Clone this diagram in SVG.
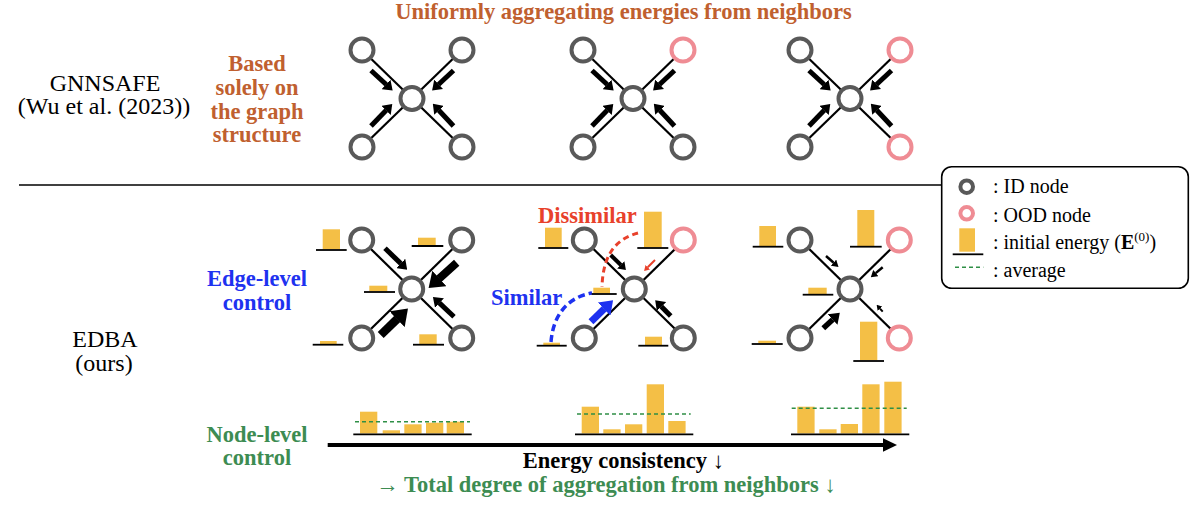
<svg xmlns="http://www.w3.org/2000/svg" width="1191" height="506" viewBox="0 0 1191 506">
<style>
  text { font-family: "Liberation Serif", "Times New Roman", Tinos, serif; }
  .reg { font-size: 24px; fill: #000; }
  .bold { font-size: 22.5px; font-weight: bold; }
  .brown { fill: #C0602F; }
  .blue { fill: #1E32F0; }
  .green { fill: #3D8C52; }
  .red { fill: #E8412B; }
  .leg { font-size: 20px; fill: #000; }
  .id { fill: #fff; stroke: #595959; stroke-width: 4; }
  .ood { fill: #fff; stroke: #EF8C94; stroke-width: 4; }
  .edge { stroke: #000; stroke-width: 2.2; fill: none; }
  .arr { stroke: #000; fill: none; marker-end: url(#ah); }
  .arrs { stroke: #000; fill: none; marker-end: url(#ahs); }
  .bar { fill: #F4BF46; }
  .base { stroke: #000; stroke-width: 1.8; }
  .avg { stroke: #2F8F46; stroke-width: 1.6; stroke-dasharray: 4 3; fill: none; }
</style>
<defs>
  <marker id="ah" viewBox="0 0 1.8 2.6" refX="0.05" refY="1.3" markerWidth="1.8" markerHeight="2.6" orient="auto" markerUnits="strokeWidth">
    <path d="M0,0 L1.8,1.3 L0,2.6 Z" fill="#000"/>
  </marker>
  <marker id="ahs" viewBox="0 0 2.6 3.2" refX="0.05" refY="1.6" markerWidth="2.6" markerHeight="3.2" orient="auto" markerUnits="strokeWidth">
    <path d="M0,0 L2.6,1.6 L0,3.2 Z" fill="#000"/>
  </marker>
  <marker id="ahRed" viewBox="0 0 2.6 3.2" refX="0.05" refY="1.6" markerWidth="2.6" markerHeight="3.2" orient="auto" markerUnits="strokeWidth">
    <path d="M0,0 L2.6,1.6 L0,3.2 Z" fill="#E8412B"/>
  </marker>
  <marker id="ahBlue" viewBox="0 0 1.8 2.6" refX="0.05" refY="1.3" markerWidth="1.8" markerHeight="2.6" orient="auto" markerUnits="strokeWidth">
    <path d="M0,0 L1.8,1.3 L0,2.6 Z" fill="#1E32F0"/>
  </marker>
</defs>

<!-- Titles and labels -->
<text class="bold brown" x="623.5" y="18.5" text-anchor="middle">Uniformly aggregating energies from neighbors</text>
<text class="reg" x="105" y="90.5" text-anchor="middle">GNNSAFE</text>
<text class="reg" x="104" y="114" text-anchor="middle">(Wu et al. (2023))</text>
<text class="bold brown" text-anchor="middle"><tspan x="257" y="71">Based</tspan><tspan x="257" y="95">solely on</tspan><tspan x="257" y="118.5">the graph</tspan><tspan x="257" y="142">structure</tspan></text>

<line x1="19" y1="185" x2="941" y2="185" stroke="#000" stroke-width="1.5"/>

<text class="bold blue" text-anchor="middle"><tspan x="257" y="286">Edge-level</tspan><tspan x="257" y="309.5">control</tspan></text>
<text class="reg" x="105" y="347" text-anchor="middle">EDBA</text>
<text class="reg" x="104" y="370.5" text-anchor="middle">(ours)</text>
<text class="bold green" text-anchor="middle"><tspan x="257" y="441.7">Node-level</tspan><tspan x="257" y="464.5">control</tspan></text>

<!-- Connectors -->
<g id="connectors">
  <g id="conn-top1" transform="translate(412,98.5)">
    <line class="edge" x1="-50" y1="-48.5" x2="50" y2="48.5"/>
    <line class="edge" x1="50" y1="-48.5" x2="-50" y2="48.5"/>
    <line class="arr" stroke-width="5" x1="-41" y1="-28" x2="-25.8" y2="-14"/>
    <line class="arr" stroke-width="5" x1="41.5" y1="-28" x2="26.5" y2="-14"/>
    <line class="arr" stroke-width="5" x1="-41" y1="27.5" x2="-25.8" y2="11.7"/>
    <line class="arr" stroke-width="5" x1="41.5" y1="27.5" x2="26.8" y2="11.7"/>
  </g>
  <g id="conn-top2" transform="translate(633,98.5)">
    <line class="edge" x1="-50" y1="-48.5" x2="50" y2="48.5"/>
    <line class="edge" x1="50" y1="-48.5" x2="-50" y2="48.5"/>
    <line class="arr" stroke-width="5" x1="-41" y1="-28" x2="-25.8" y2="-14"/>
    <line class="arr" stroke-width="5" x1="41.5" y1="-28" x2="26.5" y2="-14"/>
    <line class="arr" stroke-width="5" x1="-41" y1="27.5" x2="-25.8" y2="11.7"/>
    <line class="arr" stroke-width="5" x1="41.5" y1="27.5" x2="26.8" y2="11.7"/>
  </g>
  <g id="conn-top3" transform="translate(850,98.5)">
    <line class="edge" x1="-50" y1="-48.5" x2="50" y2="48.5"/>
    <line class="edge" x1="50" y1="-48.5" x2="-50" y2="48.5"/>
    <line class="arr" stroke-width="5" x1="-41" y1="-28" x2="-25.8" y2="-14"/>
    <line class="arr" stroke-width="5" x1="41.5" y1="-28" x2="26.5" y2="-14"/>
    <line class="arr" stroke-width="5" x1="-41" y1="27.5" x2="-25.8" y2="11.7"/>
    <line class="arr" stroke-width="5" x1="41.5" y1="27.5" x2="26.8" y2="11.7"/>
  </g>
  <g id="conn-edbaA" transform="translate(411.7,289)">
    <line class="edge" x1="-50" y1="-49" x2="50" y2="49"/>
    <line class="edge" x1="50" y1="-49" x2="-50" y2="49"/>
    <line class="arr" stroke-width="5" x1="-26.7" y1="-40.7" x2="-10.8" y2="-25.4"/>
    <line class="arr" stroke-width="8" x1="45" y1="-26.3" x2="27.3" y2="-10.3"/>
    <line class="arr" stroke-width="5" x1="42.3" y1="27.7" x2="27.6" y2="13.9"/>
    <line class="arr" stroke-width="8.5" x1="-31" y1="46" x2="-14.4" y2="29.9"/>
  </g>
  <g id="conn-edbaB" transform="translate(634.3,289)">
    <line class="edge" x1="-50" y1="-49" x2="50" y2="49"/>
    <line class="edge" x1="50" y1="-49" x2="-50" y2="49"/>
    <line class="arr" stroke-width="4" x1="-23.6" y1="-34" x2="-13.4" y2="-24"/>
    <line stroke="#E8412B" stroke-width="2" marker-end="url(#ahRed)" x1="20.7" y1="-29" x2="13.4" y2="-21.7"/>
    <line class="arr" stroke-width="5" x1="36.4" y1="27" x2="27" y2="17.4"/>
    <line stroke="#1E32F0" stroke-width="7" marker-end="url(#ahBlue)" x1="-43.3" y1="32.7" x2="-30" y2="19.8"/>
  </g>
  <path d="M638,233 C620,238 603,250 602,287" fill="none" stroke="#E8412B" stroke-width="3" stroke-dasharray="6 4"/>
  <path d="M551,342 C553,315 568,297 592,293" fill="none" stroke="#1E32F0" stroke-width="3.5" stroke-dasharray="7 4"/>
  <g id="conn-edbaC" transform="translate(850,289)">
    <line class="edge" x1="-50" y1="-49" x2="50" y2="49"/>
    <line class="edge" x1="50" y1="-49" x2="-50" y2="49"/>
    <line class="arrs" stroke-width="2.5" x1="-24" y1="-33" x2="-16.3" y2="-26.3"/>
    <line class="arrs" stroke-width="2.5" x1="32.7" y1="-21.7" x2="25.7" y2="-15.9"/>
    <line class="arrs" stroke-width="2" x1="32.7" y1="22.7" x2="30" y2="19.6"/>
    <line class="arr" stroke-width="5.5" x1="-26.7" y1="39.3" x2="-17.2" y2="30.4"/>
  </g>
</g>

<text class="bold red" x="538" y="223">Dissimilar</text>
<text class="bold blue" x="491" y="305">Similar</text>

<!-- Top graphs nodes -->
<g id="top1" transform="translate(412,98.5)">
  <g id="top1-tl"><circle class="id" cx="-50" cy="-48.5" r="11.5"/></g>
  <g id="top1-tr"><circle class="id" cx="50" cy="-48.5" r="11.5"/></g>
  <g id="top1-c"><circle class="id" cx="0" cy="0" r="11.5"/></g>
  <g id="top1-bl"><circle class="id" cx="-50" cy="48.5" r="11.5"/></g>
  <g id="top1-br"><circle class="id" cx="50" cy="48.5" r="11.5"/></g>
</g>
<g id="top2" transform="translate(633,98.5)">
  <g id="top2-tl"><circle class="id" cx="-50" cy="-48.5" r="11.5"/></g>
  <g id="top2-tr"><circle class="ood" cx="50" cy="-48.5" r="11.5"/></g>
  <g id="top2-c"><circle class="id" cx="0" cy="0" r="11.5"/></g>
  <g id="top2-bl"><circle class="id" cx="-50" cy="48.5" r="11.5"/></g>
  <g id="top2-br"><circle class="id" cx="50" cy="48.5" r="11.5"/></g>
</g>
<g id="top3" transform="translate(850,98.5)">
  <g id="top3-tl"><circle class="id" cx="-50" cy="-48.5" r="11.5"/></g>
  <g id="top3-tr"><circle class="ood" cx="50" cy="-48.5" r="11.5"/></g>
  <g id="top3-c"><circle class="id" cx="0" cy="0" r="11.5"/></g>
  <g id="top3-bl"><circle class="id" cx="-50" cy="48.5" r="11.5"/></g>
  <g id="top3-br"><circle class="ood" cx="50" cy="48.5" r="11.5"/></g>
</g>

<!-- EDBA graph A -->
<g id="edbaA" transform="translate(411.7,289)">
  <g id="A-tl"><circle class="id" cx="-50" cy="-49" r="11.5"/><rect class="bar" x="-89" y="-59.7" width="17.3" height="20"/><line class="base" x1="-95.7" y1="-39" x2="-65" y2="-39"/></g>
  <g id="A-tr"><circle class="id" cx="50" cy="-49" r="11.5"/><rect class="bar" x="6.3" y="-51.3" width="17.7" height="7.6"/><line class="base" x1="0" y1="-43" x2="31.6" y2="-43"/></g>
  <g id="A-c"><circle class="id" cx="0" cy="0" r="11.5"/><rect class="bar" x="-42.4" y="-3.3" width="18" height="5.6"/><line class="base" x1="-47.7" y1="3" x2="-16.7" y2="3"/></g>
  <g id="A-bl"><circle class="id" cx="-50" cy="49" r="11.5"/><rect class="bar" x="-91.7" y="52" width="16.7" height="3.2"/><line class="base" x1="-99" y1="55.7" x2="-68.4" y2="55.7"/></g>
  <g id="A-br"><circle class="id" cx="50" cy="49" r="11.5"/><rect class="bar" x="7.6" y="45.3" width="17.4" height="9.9"/><line class="base" x1="1.3" y1="55.7" x2="32.3" y2="55.7"/></g>
</g>

<!-- EDBA graph B -->
<g id="edbaB" transform="translate(634.3,289)">
  <g id="B-tl"><circle class="id" cx="-50" cy="-49" r="11.5"/><rect class="bar" x="-89.3" y="-61.3" width="16.7" height="19.8"/><line class="base" x1="-96" y1="-41" x2="-66" y2="-41"/></g>
  <g id="B-tr"><circle class="ood" cx="49" cy="-49" r="11.5"/><rect class="bar" x="9.7" y="-77.3" width="17.7" height="35.8"/><line class="base" x1="3" y1="-41" x2="34" y2="-41"/></g>
  <g id="B-c"><circle class="id" cx="0" cy="0" r="11.5"/><rect class="bar" x="-41" y="-1.3" width="16.7" height="5.8"/><line class="base" x1="-42.6" y1="5" x2="-17.6" y2="5"/></g>
  <g id="B-bl"><circle class="id" cx="-50" cy="49" r="11.5"/><rect class="bar" x="-91" y="53.7" width="16.7" height="2.5"/><line class="base" x1="-97.6" y1="56.7" x2="-67.6" y2="56.7"/></g>
  <g id="B-br"><circle class="id" cx="49" cy="49" r="11.5"/><rect class="bar" x="10.7" y="47.7" width="17" height="8.5"/><line class="base" x1="4" y1="56.7" x2="34" y2="56.7"/></g>
</g>

<!-- EDBA graph C -->
<g id="edbaC" transform="translate(850,289)">
  <g id="C-tl"><circle class="id" cx="-50" cy="-49" r="11.5"/><rect class="bar" x="-90.7" y="-63" width="16.7" height="20.2"/><line class="base" x1="-97.3" y1="-42.3" x2="-66.7" y2="-42.3"/></g>
  <g id="C-tr"><circle class="ood" cx="49.3" cy="-49" r="11.5"/><rect class="bar" x="7.3" y="-79" width="17" height="36.2"/><line class="base" x1="0" y1="-42.3" x2="31.7" y2="-42.3"/></g>
  <g id="C-c"><circle class="id" cx="0" cy="0" r="11.5"/><rect class="bar" x="-41.7" y="-1.3" width="18.4" height="6.5"/><line class="base" x1="-47.3" y1="5.7" x2="-16.7" y2="5.7"/></g>
  <g id="C-bl"><circle class="id" cx="-50" cy="49" r="11.5"/><rect class="bar" x="-91.7" y="51.7" width="17.7" height="2.8"/><line class="base" x1="-98.3" y1="55" x2="-67.3" y2="55"/></g>
  <g id="C-br"><circle class="ood" cx="49.3" cy="49" r="11.5"/><rect class="bar" x="10" y="32.7" width="17.3" height="38.5"/><line class="base" x1="3.3" y1="72" x2="34" y2="72"/></g>
</g>

<!-- Node-level bar charts -->
<g id="chart1">
  <rect class="bar" x="360" y="411.7" width="17.3" height="21.8"/>
  <rect class="bar" x="382.7" y="430.3" width="17.3" height="3.2"/>
  <rect class="bar" x="404.3" y="424.3" width="17.3" height="9.2"/>
  <rect class="bar" x="426" y="422.7" width="17.3" height="10.8"/>
  <rect class="bar" x="446.7" y="421.7" width="17.3" height="11.8"/>
  <line class="base" x1="353.3" y1="434.3" x2="471.7" y2="434.3"/>
  <line class="avg" x1="355" y1="421.7" x2="470" y2="421.7"/>
</g>
<g id="chart2">
  <rect class="bar" x="581.7" y="406.7" width="17.3" height="26.8"/>
  <rect class="bar" x="603.3" y="429.3" width="17.3" height="4.2"/>
  <rect class="bar" x="625" y="424.3" width="17.3" height="9.2"/>
  <rect class="bar" x="646.7" y="384.3" width="17.3" height="49.2"/>
  <rect class="bar" x="668.3" y="421" width="17.3" height="12.5"/>
  <line class="base" x1="575" y1="434.3" x2="693.3" y2="434.3"/>
  <line class="avg" x1="577" y1="414" x2="690.7" y2="414"/>
</g>
<g id="chart3">
  <rect class="bar" x="797.3" y="406.7" width="17.3" height="26.8"/>
  <rect class="bar" x="819.3" y="429.3" width="17.3" height="4.2"/>
  <rect class="bar" x="840.7" y="424" width="17.3" height="9.5"/>
  <rect class="bar" x="862.3" y="384.3" width="17.3" height="49.2"/>
  <rect class="bar" x="884.3" y="381.7" width="17.3" height="51.8"/>
  <line class="base" x1="791" y1="434.3" x2="909.3" y2="434.3"/>
  <line class="avg" x1="791.7" y1="408.3" x2="906.7" y2="408.3"/>
</g>

<!-- Main axis arrow -->
<g id="axis">
  <line x1="327.7" y1="445" x2="884" y2="445" stroke="#000" stroke-width="4"/>
  <polygon points="883,438.3 897,445 883,451.7" fill="#000"/>
</g>
<text class="bold" x="623.3" y="468.3" text-anchor="middle" fill="#000">Energy consistency ↓</text>
<text class="bold green" x="606" y="491.7" text-anchor="middle">→ Total degree of aggregation from neighbors ↓</text>

<!-- Legend -->
<g id="legend">
  <rect x="941.7" y="166.7" width="246.6" height="121.6" rx="10" ry="10" fill="#fff" stroke="#000" stroke-width="1.6"/>
  <g id="leg-id"><circle class="id" cx="966.7" cy="186.7" r="6.3" stroke-width="4.5"/><text class="leg" x="993" y="193.3">: ID node</text></g>
  <g id="leg-ood"><circle class="ood" cx="966.7" cy="213.3" r="6.3" stroke-width="4.5"/><text class="leg" x="993" y="221.5">: OOD node</text></g>
  <g id="leg-energy"><rect class="bar" x="959.3" y="228.3" width="15.7" height="23.4"/><line class="base" x1="952.7" y1="254.3" x2="983.3" y2="254.3"/><text class="leg" x="993" y="249.3">: initial energy (<tspan font-weight="bold">E</tspan><tspan font-size="13" dy="-8">(0)</tspan><tspan dy="8">)</tspan></text></g>
  <g id="leg-avg"><line class="avg" x1="955" y1="267.3" x2="983.3" y2="267.3"/><text class="leg" x="993" y="276.7">: average</text></g>
</g>
</svg>
